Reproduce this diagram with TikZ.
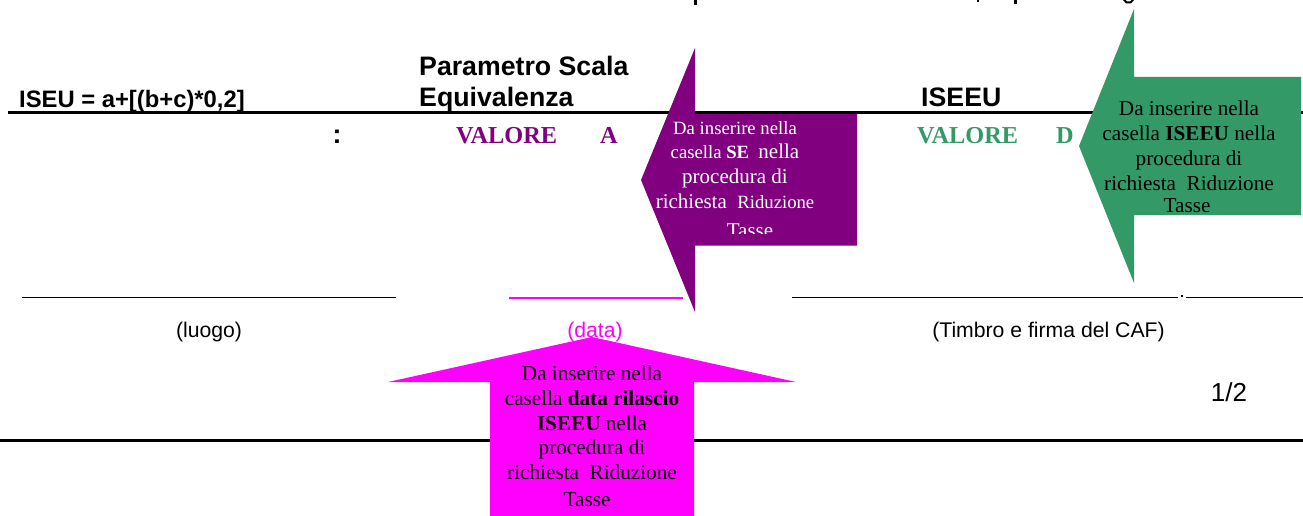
\documentclass[tikz,border=0pt]{standalone}
\usepackage{fontspec}
\setmainfont{Liberation Sans}
\newfontfamily\tnr{Liberation Serif}
\definecolor{viola}{RGB}{128,0,128}
\definecolor{verde}{RGB}{51,153,102}
\definecolor{fucsia}{RGB}{255,0,255}
\newcommand{\sm}{\fontsize{18.7}{20}\selectfont}
\newcommand{\bg}{\fontsize{21}{22}\selectfont}
\tikzset{
 formula/.style={inner sep=0pt,anchor=base west,font=\fontsize{23.8}{26}\selectfont\bfseries},
 lab/.style={inner sep=0pt,anchor=base west,font=\fontsize{26.7}{28}\selectfont\bfseries},
 small/.style={inner sep=0pt,anchor=base,font=\fontsize{21.2}{24}\selectfont},
 valore/.style={inner sep=0pt,anchor=base west,font=\tnr\fontsize{24.3}{26}\selectfont\bfseries},
 boxtxt/.style={inner sep=0pt,anchor=base,font=\tnr\fontsize{21.2}{24}\selectfont},
 rule/.style={black,line width=2.6pt},
 sig/.style={line width=1.2pt},
}
\begin{document}
\begin{tikzpicture}[x=1pt,y=-1pt]
\useasboundingbox (0,0) rectangle (1303,516);
\fill[white] (0,0) rectangle (1303,516);
\coordinate (r1a) at (8,112.5); \coordinate (r1b) at (1303,112.5);
\coordinate (r2a) at (0,440.5); \coordinate (r2b) at (1303,440.5);
\draw[rule] (r1a) -- (r1b);
\draw[rule] (r2a) -- (r2b);
\coordinate (s1a) at (22,297.5); \coordinate (s1b) at (396,297.5);
\coordinate (s2a) at (509,297.5); \coordinate (s2b) at (683,297.5);
\coordinate (s3a) at (792,297.5); \coordinate (s3b) at (1178,297.5);
\coordinate (s4a) at (1186,297.5); \coordinate (s4b) at (1303,297.5);
\draw[sig,black] (s1a) -- (s1b);
\draw[sig,black] (s3a) -- (s3b);
\draw[sig,black] (s4a) -- (s4b);
\draw[line width=2pt,draw=fucsia] (s2a) -- (s2b);
\fill[black] (1180.5,294.5) rectangle (1183,297);
% clipped descenders of the cut-off top line
\fill[black] (694,0) rectangle (696.5,5);
\fill[black] (977,0) rectangle (979,2.5);
\fill[black] (1014,0) rectangle (1016.5,4.5);
\fill[black] (1123,0) -- (1125.5,0) -- (1127,1.5) -- (1130,1.5) -- (1131.5,0) -- (1134,0) -- (1131,3.5) -- (1126,3.5) -- cycle;
\node[formula] (t1) at (19,108) {ISEU = a+[(b+c)*0,2]};
\node[lab] (t2) at (419,76) {Parametro Scala};
\node[lab] (t3) at (419,107) {Equivalenza};
\node[lab] (t4) at (921,106.5) {ISEEU};
\node[lab] (colon) at (332.5,143) {:};
\node[valore,text=viola] (v1) at (456,143) {VALORE};
\node[valore,text=viola] (v2) at (600,143) {A};
\node[valore,text=verde] (v3) at (917,143) {VALORE};
\node[valore,text=verde] (v4) at (1056,143) {D};
\node[small] (luogo) at (209,337) {(luogo)};
\node[small,text=fucsia] (data) at (595,337) {(data)};
\node[small] (timbro) at (1048.5,337) {(Timbro e firma del CAF)};
\node[inner sep=0pt,anchor=base,font=\fontsize{26}{28}\selectfont] (pg) at (1229,401) {1/2};
% viola arrow
\fill[viola] (695,48) -- (695,114) -- (857,114) -- (857,245.5) -- (695,245.5) -- (695,312) -- (641,180) -- cycle;
\node[boxtxt,text=white] (a1) at (735,134.5) {\sm Da inserire nella};
\node[boxtxt,text=white] (a2) at (735,158.5) {\sm casella \textbf{SE}\ \ \bg nella};
\node[boxtxt,text=white] (a4) at (735,183) {\bg procedura di};
\node[boxtxt,text=white] (a5) at (735,208) {\bg richiesta\ \ \sm Riduzione};
\begin{scope}
\clip (690,220) rectangle (857,233.5);
\node[boxtxt,text=white] (a6) at (750,237) {\bg Tasse};
\end{scope}
% verde arrow
\fill[verde] (1134,9) -- (1134,77) -- (1301,77) -- (1301,215) -- (1134,215) -- (1134,283) -- (1079,146) -- cycle;
\node[boxtxt] (b1) at (1189,116) {Da inserire nella};
\node[boxtxt] (b2) at (1189,141) {casella \textbf{ISEEU} nella};
\node[boxtxt] (b3) at (1189,165) {procedura di};
\node[boxtxt] (b4) at (1189,190) {richiesta\ \ Riduzione};
\node[boxtxt] (b5) at (1187,212) {Tasse};
% fucsia arrow
\fill[fucsia] (592,337) -- (796,382) -- (694,382) -- (694,516) -- (490,516) -- (490,382) -- (388,382) -- cycle;
\node[boxtxt] (c1) at (592,380.5) {Da inserire nella};
\node[boxtxt] (c2) at (592,405) {casella \textbf{data rilascio}};
\node[boxtxt] (c3) at (592,430) {\textbf{ISEEU} nella};
\node[boxtxt] (c4) at (592,454) {procedura di};
\node[boxtxt] (c5) at (592,479) {richiesta\ \ Riduzione};
\node[boxtxt] (c6) at (587,506) {Tasse};
\end{tikzpicture}
\end{document}
